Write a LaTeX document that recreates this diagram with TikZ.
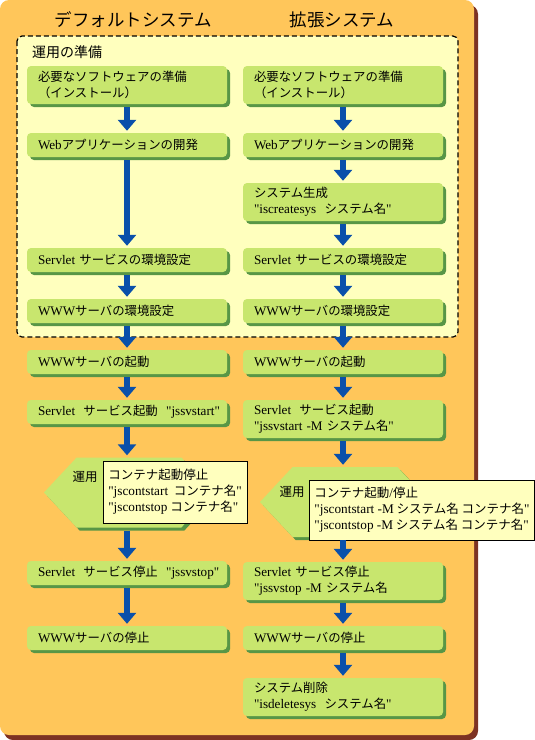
\documentclass[tikz,border=0pt]{standalone}
\usepackage{fontspec}
\setmainfont{Noto Sans CJK JP}
\newfontfamily\lat[Scale=1.06]{Liberation Serif}
\usepackage{tikz}
\usetikzlibrary{arrows.meta,shapes.symbols,shadows}
\definecolor{panelorange}{HTML}{FFC65A}
\definecolor{panelbrown}{HTML}{7D3223}
\definecolor{prepyellow}{HTML}{FFFFBE}
\definecolor{boxgreen}{HTML}{C8E66E}
\definecolor{boxdark}{HTML}{589646}
\definecolor{flowblue}{HTML}{0A50AA}
\newcommand{\en}[1]{{\lat #1}}

\begin{document}
\begin{tikzpicture}[x=1pt,y=-1pt,
  stepbox/.style={rectangle,rounded corners=4pt,fill=boxgreen,minimum width=200pt,minimum height=24pt,
    text width=178pt,inner xsep=11pt,inner ysep=3pt,align=left,font=\fontsize{12.4}{16}\selectfont,
    drop shadow={shadow xshift=3pt,shadow yshift=-3pt,fill=boxdark,opacity=1}},
  tallbox/.style={stepbox,minimum height=38pt},
  opbox/.style={signal,signal to=west and east,signal pointer angle=94,fill=boxgreen,
    minimum width=170pt,minimum height=70pt,
    drop shadow={shadow xshift=3pt,shadow yshift=-3pt,fill=boxdark,opacity=1}},
  notebox/.style={rectangle,draw=black,line width=0.8pt,fill=prepyellow,align=left,
    inner xsep=5pt,font=\fontsize{12.5}{16}\selectfont},
  flow/.style={draw=flowblue,line width=6pt,-{Triangle[width=18pt,length=11pt]},shorten <=3pt,shorten >=2pt}]
\useasboundingbox (0,0) rectangle (535,740);
\fill[panelbrown,rounded corners=9pt] (4,5) rectangle (478,740);
\fill[panelorange,rounded corners=9pt] (0,0) rectangle (474,735);
\draw[fill=prepyellow,dashed,dash pattern=on 5pt off 3pt,line width=1.2pt,rounded corners=5pt] (17,36) rectangle (458,337);

\node (titleL) at (133,20) [font=\fontsize{17.5}{20}\selectfont] {デフォルトシステム};
\node (titleR) at (342,20) [font=\fontsize{17.5}{20}\selectfont] {拡張システム};
\node (prep) at (32,52) [anchor=west,font=\fontsize{14}{16}\selectfont,inner xsep=0pt] {運用の準備};

\node (l1) at (127,85) [tallbox] {必要なソフトウェアの準備\\（インストール）};
\node (l2) at (127,145) [stepbox] {\en{Web}アプリケーションの開発};
\node (l3) at (127,260) [stepbox] {\en{Servlet} サービスの環境設定};
\node (l4) at (127,311) [stepbox] {\en{WWW}サーバの環境設定};
\node (l5) at (127,362) [stepbox] {\en{WWW}サーバの起動};
\node (l6) at (127,412) [stepbox] {\mbox{\en{Servlet} \ サービス起動 \ \en{"jssvstart"}}};
\node (opl) at (129,492.5) [opbox] {};
\node (l7) at (127,573) [stepbox] {\mbox{\en{Servlet} \ サービス停止 \ \en{"jssvstop"}}};
\node (l8) at (127,638) [stepbox] {\en{WWW}サーバの停止};

\node (r1) at (343,85) [tallbox] {必要なソフトウェアの準備\\（インストール）};
\node (r2) at (343,145) [stepbox] {\en{Web}アプリケーションの開発};
\node (r3) at (343,202) [tallbox] {システム生成\\\en{"iscreatesys} \ システム名\en{"}};
\node (r4) at (343,260) [stepbox] {\en{Servlet} サービスの環境設定};
\node (r5) at (343,311) [stepbox] {\en{WWW}サーバの環境設定};
\node (r6) at (343,362) [stepbox] {\en{WWW}サーバの起動};
\node (r7) at (343,419) [tallbox] {\en{Servlet} \ サービス起動\\\en{"jssvstart -M} システム名\en{"}};
\node (opr) at (345,502) [opbox] {};
\node (r8) at (343,581) [tallbox] {\en{Servlet} サービス停止\\\en{"jssvstop -M} システム名};
\node (r9) at (343,638) [stepbox] {\en{WWW}サーバの停止};
\node (r10) at (343,697) [tallbox] {システム削除\\\en{"isdeletesys} \ システム名\en{"}};

\node (useL) at (85,477) [font=\fontsize{12.5}{16}\selectfont] {運用};
\node (useR) at (292,492) [font=\fontsize{12.5}{16}\selectfont] {運用};
\node (noteL) at (175,492) [notebox,minimum width=144pt,minimum height=62pt]
  {コンテナ起動停止\\\en{"jscontstart} \ コンテナ名\en{"}\\\en{"jscontstop} コンテナ名\en{"}};
\node (noteR) at (422,510) [notebox,minimum width=222pt,minimum height=60pt]
  {コンテナ起動\en{/}停止\\\en{"jscontstart -M} システム名 コンテナ名\en{"}\\\en{"jscontstop -M} システム名 コンテナ名\en{"}};

\draw[flow] (l1) -- (l2);
\draw[flow] (l2) -- (l3);
\draw[flow] (l3) -- (l4);
\draw[flow] (l4) -- (l5);
\draw[flow] (l5) -- (l6);
\draw[flow] (l6) -- (l6 |- opl.north);
\draw[flow] (l7 |- opl.south) -- (l7);
\draw[flow] (l7) -- (l8);

\draw[flow] (r1) -- (r2);
\draw[flow] (r2) -- (r3);
\draw[flow] (r3) -- (r4);
\draw[flow] (r4) -- (r5);
\draw[flow] (r5) -- (r6);
\draw[flow] (r6) -- (r7);
\draw[flow] (r7) -- (r7 |- opr.north);
\draw[flow] (r8 |- opr.south) -- (r8);
\draw[flow] (r8) -- (r9);
\draw[flow] (r9) -- (r10);
\end{tikzpicture}
\end{document}
